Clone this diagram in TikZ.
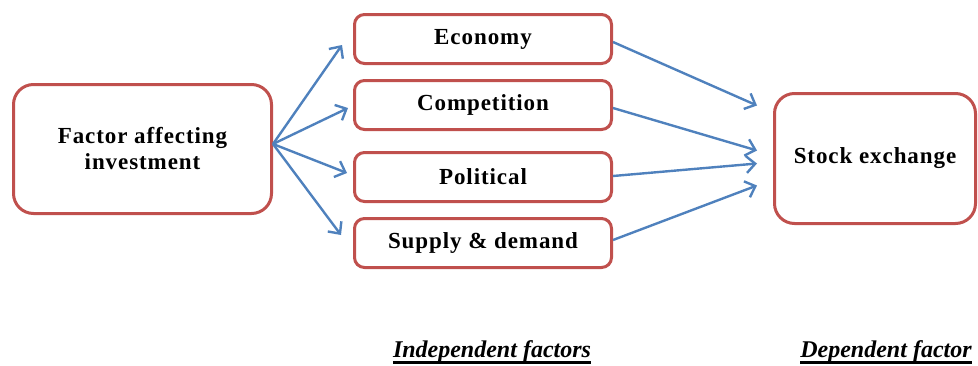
\documentclass[tikz,border=0pt]{standalone}
\usepackage{fontspec}
\setmainfont{Liberation Serif}
\newfontfamily\boxfont[LetterSpace=4]{Liberation Serif}
\usetikzlibrary{arrows.meta,calc}
\definecolor{boxred}{RGB}{192,80,77}
\definecolor{arrblue}{RGB}{79,129,189}
\begin{document}
\begin{tikzpicture}[x=1pt,y=-1pt,
  box/.style={draw=boxred, line width=3pt, fill=white, align=center, inner sep=0pt,
    font=\boxfont\bfseries\fontsize{23}{26}\selectfont},
  bigbox/.style={box, rounded corners=20pt},
  smallbox/.style={box, rounded corners=10pt, minimum width=257pt, minimum height=49pt},
  arr/.style={draw=arrblue, line width=2.4pt, -{Straight Barb[length=9pt,width=17pt]}},
  caption/.style={inner sep=0pt, anchor=base, font=\bfseries\itshape\fontsize{24}{28}\selectfont},
  uline/.style={line width=3pt}
]
\useasboundingbox (0,0) rectangle (978,365);

\node[bigbox, minimum width=258pt, minimum height=129pt] (fac) at (142.5,149) {Factor affecting\\investment};
\node[smallbox] (eco) at (483,39) {Economy};
\node[smallbox] (com) at (483,105) {Competition};
\node[smallbox] (pol) at (483,177) {Political};
\node[smallbox] (sup) at (483,243) {Supply \& demand};
\node[bigbox, minimum width=201pt, minimum height=130pt] (stk) at (875,158.5) {Stock exchange};

\coordinate (fo) at ($(fac.east)+(0,-5)$);
\draw[arr] (fo) -- ($(eco.west)+(-11,6)$);
\draw[arr] (fo) -- ($(com.west)+(-5,3)$);
\draw[arr] (fo) -- ($(pol.west)+(-6,-4)$);
\draw[arr] (fo) -- ($(sup.west)+(-12,-8)$);

\draw[arr] ($(eco.east)+(0,3)$) -- ($(stk.west)+(-16,-53)$);
\draw[arr] ($(com.east)+(0,3)$) -- ($(stk.west)+(-16,-8)$);
\draw[arr] ($(pol.east)+(0,-1)$) -- ($(stk.west)+(-16,5)$);
\draw[arr] ($(sup.east)+(0,-3)$) -- ($(stk.west)+(-16,27)$);

\node[caption] (ind) at (492,357) {Independent factors};
\node[caption] (dep) at (886,357) {Dependent factor};
\draw[uline] ($(ind.base west)+(0,5)$) -- ($(ind.base east)+(0,5)$);
\draw[uline] ($(dep.base west)+(0,5)$) -- ($(dep.base east)+(0,5)$);
\end{tikzpicture}
\end{document}
